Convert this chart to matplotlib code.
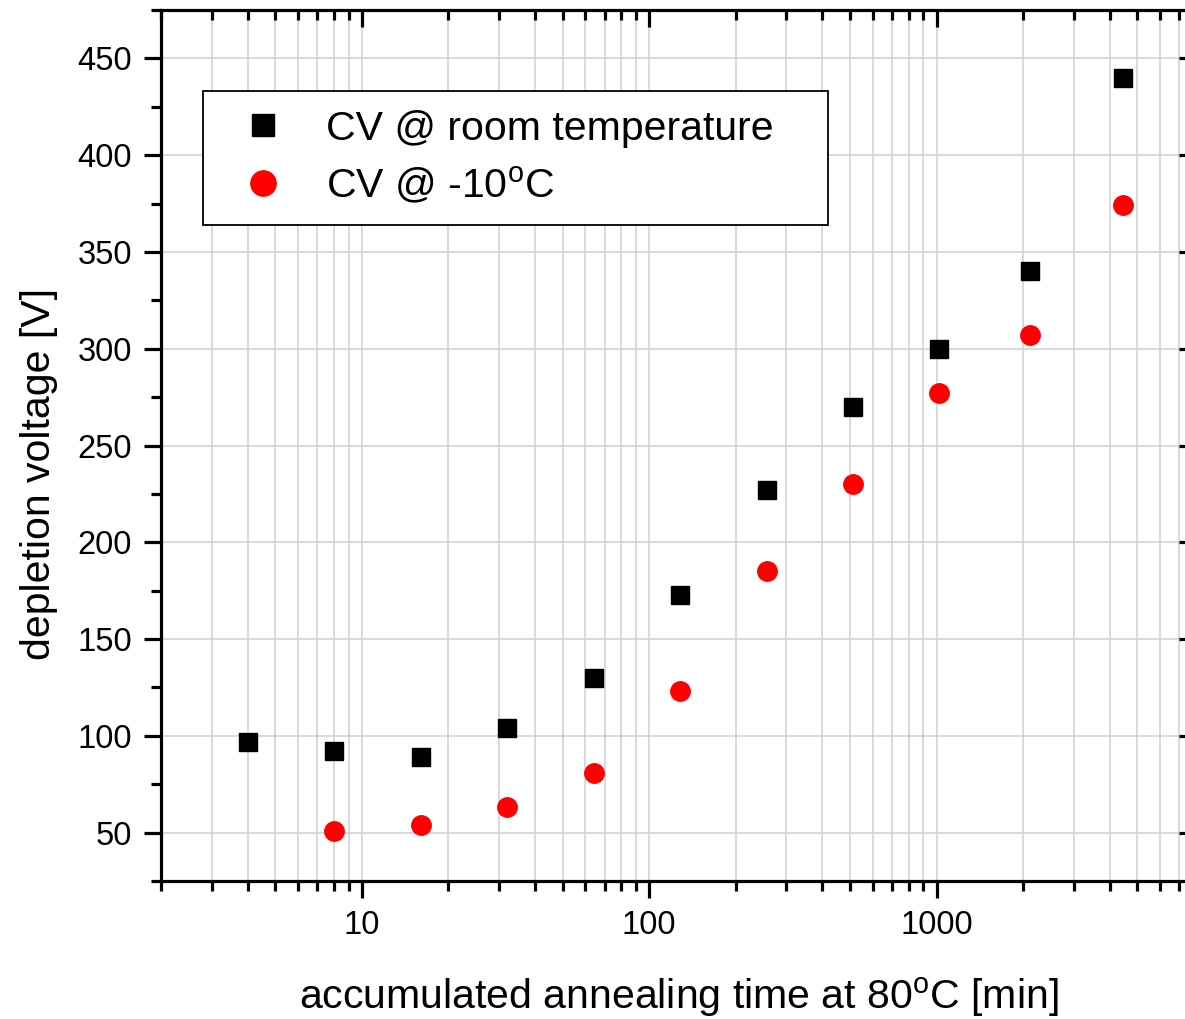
import matplotlib
matplotlib.use("Agg")
import matplotlib.pyplot as plt
from matplotlib.ticker import LogLocator, FixedLocator, NullFormatter, MultipleLocator
import numpy as np

plt.rcParams['font.family'] = ['Liberation Sans', 'DejaVu Sans']
plt.rcParams['mathtext.fontset'] = 'custom'
plt.rcParams['mathtext.rm'] = 'Liberation Sans'

# annealing steps [min] and depletion voltages [V]
time_room = [4, 8, 16, 32, 64, 128, 256, 512, 1024, 2120, 4470]
volt_room = [97, 92, 89, 104, 130, 173, 227, 270, 300, 340, 440]

time_cold = [8, 16, 32, 64, 128, 256, 512, 1024, 2120, 4470]
volt_cold = [51, 54, 63, 81, 123, 185, 230, 277, 307, 374]

x_ticks = [10, 100, 1000]
y_ticks = [50, 100, 150, 200, 250, 300, 350, 400, 450]

pos = [0.1359, 0.1354, 0.8734, 0.8548]
fig = plt.figure(figsize=(11.85, 10.19), dpi=100)
ax = fig.add_axes(pos)

ax.plot(time_room, volt_room, 's', color='black', markersize=12.5, linestyle='none',
        label='CV @ room temperature', zorder=5)
ax.plot(time_cold, volt_cold, 'o', color='red', markersize=14, linestyle='none',
        label=r'CV @ -10$^{\mathrm{o}}$C', zorder=5)

ax.set_xscale('log')
ax.set_xlim(2, 8000)
ax.set_ylim(25, 475)

def set_locators(a):
    a.xaxis.set_major_locator(FixedLocator(x_ticks))
    a.xaxis.set_minor_locator(LogLocator(base=10, subs=np.arange(2, 10)))
    a.xaxis.set_minor_formatter(NullFormatter())
    a.yaxis.set_major_locator(FixedLocator(y_ticks))
    a.yaxis.set_minor_locator(MultipleLocator(25))

set_locators(ax)
ax.set_xticklabels([str(t) for t in x_ticks])

ax.grid(True, which='both', axis='x', color='#cfcfcf', linewidth=1.1)
ax.grid(True, which='major', axis='y', color='#cfcfcf', linewidth=1.1)
ax.set_axisbelow(True)

for s in ax.spines.values():
    s.set_linewidth(2.3)

ax.tick_params(which='major', direction='out', length=12, width=2.3, labelsize=23.5, pad=9)
ax.tick_params(which='minor', direction='out', length=7, width=2.3)

# overlay axes carrying the inward ticks on top and right
ov = fig.add_axes(pos, sharex=ax, sharey=ax)
ov.patch.set_visible(False)
for s in ov.spines.values():
    s.set_visible(False)
ov.tick_params(which='both', direction='in', width=2.3,
               bottom=False, left=False, top=True, right=True,
               labelbottom=False, labelleft=False, labeltop=False, labelright=False)
ov.tick_params(which='major', length=12)
ov.tick_params(which='minor', length=7)

ax.set_xlabel(r'accumulated annealing time at 80$^{\mathrm{o}}$C [min]', fontsize=29.5, labelpad=24)
ax.set_ylabel('depletion voltage [V]', fontsize=29.5, labelpad=14)
ax.yaxis.label.set_y(0.467)

leg = ov.legend(*ax.get_legend_handles_labels(),
                loc='upper left', bbox_to_anchor=(0.0406, 0.0, 0.604, 0.907),
                mode='expand', borderaxespad=0, fontsize=29.5, frameon=True,
                fancybox=False, edgecolor='black', markerscale=1.3,
                handletextpad=0.55, borderpad=0.46, labelspacing=0.41, handlelength=2.0)
leg.get_frame().set_linewidth(1.3)
leg.get_frame().set_alpha(1)

fig.savefig('out.png', dpi=100)
